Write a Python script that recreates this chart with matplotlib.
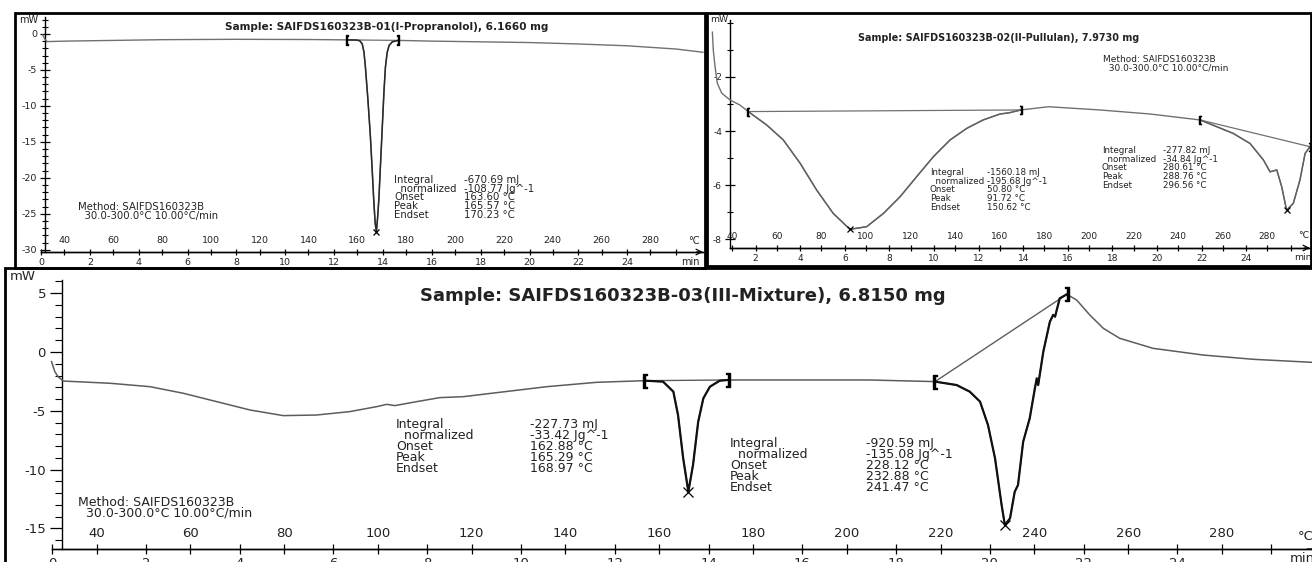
import matplotlib
matplotlib.use('Agg')
from matplotlib import pyplot as plt
from matplotlib.patches import Rectangle

W, H = 1312, 562
T0 = 30.5  # degC at t = 0, heating 10 degC/min

# ---- I - Propranolol (top left) ----
prop_time = [0.07, 0.16, 0.25, 1.0, 3.0, 5.0, 8.0, 11.0, 12.54, 12.9, 13.05, 13.15, 13.22, 13.28,
             13.38, 13.48, 13.56, 13.62, 13.68, 13.73, 13.78, 13.83, 13.9, 13.97, 14.04, 14.1,
             14.17, 14.25, 14.38, 14.63, 16.0, 18.0, 20.0, 22.0, 24.0, 26.0, 27.1]
prop_mw = [-0.14, -0.74, -1.07, -1.0, -0.9, -0.8, -0.75, -0.78, -0.83, -0.85, -0.95, -1.4, -2.5, -4.6,
           -9.0, -14.0, -19.0, -23.0, -26.3, -27.5, -25.5, -23.0, -18.0, -13.0, -8.0, -4.6,
           -2.6, -1.6, -1.1, -0.9, -1.0, -1.1, -1.2, -1.4, -1.65, -2.1, -2.55]
prop_lim_t = [12.54, 14.63]
prop_lim_mw = [-0.83, -0.9]
prop_peak_t = [13.73]
prop_peak_mw = [-27.5]
prop_labels = "Integral\n  normalized\nOnset\nPeak\nEndset"
prop_values = "-670.69 mJ\n-108.77 Jg^-1\n163.60 °C\n165.57 °C\n170.23 °C"

# ---- II - Pullulan (top right) ----
pull_time = [0.06, 0.1, 0.18, 0.28, 0.48, 0.85, 1.3, 1.67, 2.5, 3.24, 4.0, 4.74, 5.48, 6.23, 6.98,
             7.73, 8.48, 9.22, 9.97, 10.72, 11.47, 12.2, 12.96, 13.4, 13.89, 15.13, 17.44, 19.69,
             21.93, 22.68, 23.42, 24.17, 24.77, 25.07, 25.37, 25.59, 25.81, 26.11, 26.41, 26.64, 26.86]
pull_mw = [-0.34, -1.0, -1.62, -2.23, -2.6, -2.85, -3.04, -3.28, -3.78, -4.33, -5.2, -6.19, -7.05, -7.64,
           -7.54, -7.05, -6.43, -5.69, -4.95, -4.33, -3.9, -3.59, -3.37, -3.32, -3.22, -3.1, -3.22,
           -3.37, -3.59, -3.84, -4.09, -4.46, -5.07, -5.51, -5.44, -6.06, -6.93, -6.68, -5.81, -4.83, -4.58]
pull_lim_t = [1.67, 13.89, 21.93, 26.86]
pull_lim_mw = [-3.28, -3.22, -3.59, -4.58]
pull_peak_t = [6.23, 25.81]
pull_peak_mw = [-7.64, -6.93]
pull_labels = ["Integral\n  normalized\nOnset\nPeak\nEndset"] * 2
pull_values = ["-1560.18 mJ\n-195.68 Jg^-1\n50.80 °C\n91.72 °C\n150.62 °C",
               "-277.82 mJ\n-34.84 Jg^-1\n280.61 °C\n288.76 °C\n296.56 °C"]

# ---- III - Mixture (bottom) ----
mix_time = [-0.01, 0.06, 0.13, 0.24, 1.24, 2.09, 2.8, 3.51, 4.22, 4.93, 5.64, 6.35, 6.92, 7.14, 7.31,
            7.78, 8.27, 8.77, 9.48, 10.55, 11.61, 12.64, 13.03, 13.25, 13.35, 13.46, 13.57, 13.67,
            13.78, 13.89, 14.03, 14.24, 14.42, 17.44, 18.83, 19.29, 19.57, 19.79, 19.96, 20.11,
            20.25, 20.32, 20.43, 20.53, 20.6, 20.71, 20.85, 20.96, 21.0, 21.03, 21.14, 21.28,
            21.35, 21.39, 21.49, 21.64, 21.85, 22.13, 22.42, 22.77, 23.48, 24.55, 25.61, 26.87]
mix_mw = [-0.82, -1.67, -2.1, -2.47, -2.66, -2.95, -3.51, -4.22, -4.93, -5.41, -5.36, -5.07, -4.65,
          -4.45, -4.56, -4.22, -3.88, -3.8, -3.46, -2.95, -2.58, -2.44, -2.52, -3.37, -5.36, -9.04,
          -11.88, -9.6, -5.93, -3.94, -2.95, -2.44, -2.38, -2.38, -2.52, -2.81, -3.37, -4.22, -6.21,
          -9.04, -13.0, -14.71, -14.14, -11.88, -11.31, -7.63, -5.64, -3.09, -2.24, -2.81, 0.03,
          2.58, 3.15, 3.0, 4.56, 4.9, 4.42, 3.15, 2.01, 1.16, 0.31, -0.26, -0.62, -0.88]
mix_lim_t = [12.64, 14.42, 18.83, 21.64]
mix_lim_mw = [-2.44, -2.38, -2.52, 4.9]
mix_peak_t = [13.57, 20.32]
mix_peak_mw = [-11.88, -14.71]
mix_labels = ["Integral\n  normalized\nOnset\nPeak\nEndset"] * 2
mix_values = ["-227.73 mJ\n-33.42 Jg^-1\n162.88 °C\n165.29 °C\n168.97 °C",
              "-920.59 mJ\n-135.08 Jg^-1\n228.12 °C\n232.88 °C\n241.47 °C"]

method_text = "Method: SAIFDS160323B\n  30.0-300.0°C 10.00°C/min"
minute_ticks = list(range(0, 27, 2))
minute_labels = [str(m) if m <= 24 else '' for m in minute_ticks]
temp_ticks = list(range(40, 281, 20))

TXT = '#222222'


def px_rect(x0, y0, x1, y1):
    return [x0 / W, 1 - y1 / H, (x1 - x0) / W, (y1 - y0) / H]


def fxy(x, y):
    return x / W, 1 - y / H


def t_to_temp(t):
    return T0 + 10 * t


def temp_to_t(T):
    return (T - T0) / 10


def make_axes(fig, rect, xlim, ylim, left_at, yticks, yminor, fs, tlen, ydir, ypad, xpad, tpad):
    ax = fig.add_axes(px_rect(*rect))
    ax.set_xlim(xlim)
    ax.set_ylim(ylim)
    ax.patch.set_alpha(0)
    ax.spines['top'].set_visible(False)
    ax.spines['right'].set_visible(False)
    ax.spines['left'].set_position(('data', left_at))
    for s in ['left', 'bottom']:
        ax.spines[s].set_linewidth(1.0)
    ax.set_yticks(yticks)
    ax.set_yticks(yminor, minor=True)
    ax.set_yticklabels([str(v) for v in yticks])
    shown = [k for k, m in enumerate(minute_ticks) if xlim[0] <= m <= xlim[1]]
    ax.set_xticks([minute_ticks[k] for k in shown])
    ax.set_xticklabels([minute_labels[k] for k in shown])
    ax.tick_params(axis='y', which='major', direction=ydir, length=tlen * 1.3, width=0.9,
                   labelsize=fs, labelcolor=TXT, pad=ypad)
    ax.tick_params(axis='y', which='minor', direction=ydir, length=tlen * 0.8, width=0.8)
    ax.tick_params(axis='x', which='major', direction='inout', length=tlen, width=0.9,
                   labelsize=fs, labelcolor=TXT, pad=xpad)
    sec = ax.secondary_xaxis(0, functions=(t_to_temp, temp_to_t))
    sec.set_alignment('top')
    sec.set_xticks(temp_ticks)
    sec.tick_params(axis='x', direction='inout', length=tlen, width=0.9,
                    labelsize=fs, labelcolor=TXT, pad=tpad)
    sec.spines['top'].set_linewidth(1.0)
    # small arrow head at the end of the time axis
    ax.annotate('', xy=(1.0, 0), xytext=(0.99, 0), xycoords='axes fraction',
                arrowprops=dict(arrowstyle='->', lw=0.9, color='black', shrinkA=0, shrinkB=0))
    return ax


def draw_curve(ax, t, mw, lim_t, lim_mw, peak_t, peak_mw, color, peak_color, lw, peak_lw, msize):
    ax.plot(t, mw, color=color, lw=lw, clip_on=False, zorder=3)
    for i in range(0, len(lim_t), 2):
        seg = [k for k in range(len(t)) if lim_t[i] <= t[k] <= lim_t[i + 1]]
        ax.plot([t[k] for k in seg], [mw[k] for k in seg], color=peak_color, lw=peak_lw,
                clip_on=False, zorder=4)
        ax.plot(lim_t[i:i + 2], lim_mw[i:i + 2], color=color, lw=lw * 0.9, zorder=3)
        ax.plot(lim_t[i], lim_mw[i], marker='$[$', color='black', ms=msize, zorder=5)
        ax.plot(lim_t[i + 1], lim_mw[i + 1], marker='$]$', color='black', ms=msize, zorder=5)
    ax.plot(peak_t, peak_mw, 'x', color='black', ms=msize * 0.7, mew=0.9, zorder=5)


def block(fig, x, y, s, fs, ls, weight='normal', ha='left'):
    fx, fy = fxy(x, y)
    fig.text(fx, fy, s, fontsize=fs, linespacing=ls, ha=ha, va='center',
             color=TXT, fontweight=weight)


fig = plt.figure(figsize=(W / 100, H / 100), dpi=100)
fig.patch.set_facecolor('white')

# top left panel
ax1 = make_axes(fig, (41, 17, 703, 252), (0, 27.1), (-30.3, 2.35), 0.16,
                [0, -5, -10, -15, -20, -25, -30], [v for v in range(-29, 3) if v % 5],
                6.8, 5, 'inout', 2.5, 2.0, 2.5)
draw_curve(ax1, prop_time, prop_mw, prop_lim_t, prop_lim_mw, prop_peak_t, prop_peak_mw,
           '#707070', '#2a2a2a', 1.0, 1.1, 7)
block(fig, 387, 27, "Sample: SAIFDS160323B-01(I-Propranolol), 6.1660 mg", 7.6, 1.0, 'bold', 'center')
block(fig, 394, 197.5, prop_labels, 7.3, 0.84)
block(fig, 464, 197.5, prop_values, 7.3, 0.84)
block(fig, 78, 211.5, method_text, 7.3, 0.84)
block(fig, 19, 20, "mW", 7.0, 1.0)
block(fig, 688, 241, "°C", 7.0, 1.0)
block(fig, 681, 262, "min", 7.0, 1.0)

# top right panel
ax2 = make_axes(fig, (730, 20, 1310, 248), (0.85, 26.86), (-8.33, 0.11), 0.85,
                [-2, -4, -6, -8], [0, -1, -3, -5, -7],
                6.5, 5, 'inout', 2.5, 2.0, 2.5)
draw_curve(ax2, pull_time, pull_mw, pull_lim_t, pull_lim_mw, pull_peak_t, pull_peak_mw,
           '#707070', '#606060', 1.0, 1.0, 6)
block(fig, 999, 38, "Sample: SAIFDS160323B-02(II-Pullulan), 7.9730 mg", 6.9, 1.0, 'bold', 'center')
block(fig, 1103, 63.5, method_text, 6.5, 0.92)
block(fig, 930, 190, pull_labels[0], 6.3, 0.95)
block(fig, 987, 190, pull_values[0], 6.3, 0.95)
block(fig, 1102, 168, pull_labels[1], 6.3, 0.95)
block(fig, 1163, 168, pull_values[1], 6.3, 0.95)
block(fig, 710, 20, "mW", 6.7, 1.0)
block(fig, 1298, 236, "°C", 6.7, 1.0)
block(fig, 1294, 257, "min", 6.7, 1.0)

# bottom panel
ax3 = make_axes(fig, (52, 280, 1320, 549), (0, 27.04), (-16.75, 6.12), 0.21,
                [5, 0, -5, -10, -15], [v for v in range(-16, 7) if v % 5],
                9.5, 6.5, 'out', 3.0, 2.5, 3.0)
draw_curve(ax3, mix_time, mix_mw, mix_lim_t, mix_lim_mw, mix_peak_t, mix_peak_mw,
           '#5c5c5c', '#111111', 1.1, 1.6, 10)
block(fig, 683, 296, "Sample: SAIFDS160323B-03(III-Mixture), 6.8150 mg", 13.0, 1.0, 'bold', 'center')
block(fig, 396, 446.5, mix_labels[0], 9.0, 0.78)
block(fig, 530, 446.5, mix_values[0], 9.0, 0.78)
block(fig, 730, 465.5, mix_labels[1], 9.0, 0.78)
block(fig, 866, 465.5, mix_values[1], 9.0, 0.78)
block(fig, 78, 508, method_text, 9.0, 0.74)
block(fig, 10, 276, "mW", 9.5, 1.0)
block(fig, 1298, 536, "°C", 9.5, 1.0)
block(fig, 1290, 558, "min", 9.5, 1.0)

# panel frames
for x0, y0, x1, y1 in [(15, 13, 705, 268), (707, 13, 1311, 266), (5, 268, 1330, 580)]:
    fig.add_artist(Rectangle(fxy(x0, y1), (x1 - x0) / W, (y1 - y0) / H, transform=fig.transFigure,
                             fill=False, lw=2.0, ec='black', zorder=10))

fig.savefig('out.png', dpi=100, facecolor='white')
